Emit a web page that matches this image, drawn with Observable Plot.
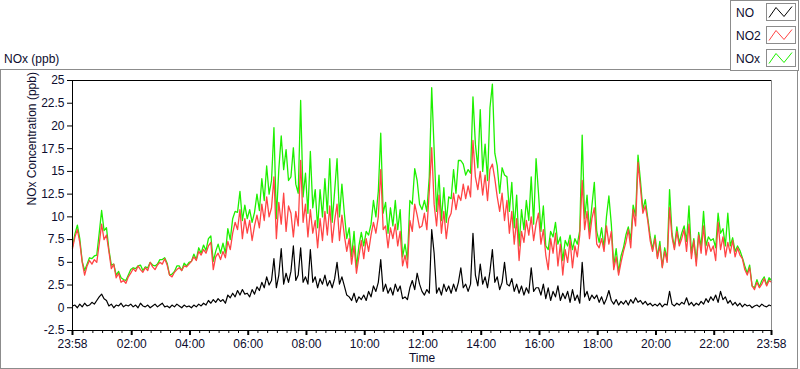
<!DOCTYPE html>
<html>
<head>
<meta charset="utf-8">
<script src="https://cdn.jsdelivr.net/npm/d3@7"></script>
<script src="https://cdn.jsdelivr.net/npm/@observablehq/plot@0.6"></script>
<style>
  html, body { margin: 0; padding: 0; background: #fff; }
  #chart { width: 800px; height: 369px; }
</style>
</head>
<body>
<div id="chart"></div>
<script>
// ---- Data (5-minute samples from 23:58 to 23:58 next day) ----
const seriesNames = ["NO", "NO2", "NOx"];
const seriesColors = ["#000000", "#ff4545", "#1ef000"];

const NO2 = [
  6.5, 7.8, 8.6, 7.2, 5.0, 3.6, 4.6, 5.2, 4.8, 5.3, 5.0, 7.0,
  9.2, 7.5, 8.0, 6.2, 4.3, 4.8, 3.3, 3.8, 2.8, 3.0, 2.7, 3.4,
  3.8, 4.3, 4.0, 4.6, 4.2, 3.9, 4.4, 4.1, 5.0, 4.5, 4.2, 4.7,
  5.0, 4.8, 5.4, 4.7, 3.6, 3.4, 3.9, 4.2, 4.4, 4.1, 4.6, 4.5,
  4.8, 5.1, 5.6, 5.2, 6.2, 5.8, 6.4, 6.0, 6.8, 7.2, 4.2, 5.6,
  6.0, 5.3, 6.2, 5.5, 7.3, 6.4, 8.2, 9.4, 8.6, 10.8, 7.6, 9.8,
  8.2, 9.6, 7.4, 9.0, 10.2, 8.8, 11.4, 9.6, 12.2, 10.0, 11.0, 14.4,
  7.6, 11.6, 9.2, 12.6, 8.4, 11.2, 10.4, 7.8, 10.6, 9.0, 16.2, 9.4,
  11.4, 7.8, 10.8, 8.2, 9.6, 6.6, 9.8, 7.4, 10.6, 8.0, 11.2, 7.2,
  9.6, 11.4, 7.4, 10.2, 8.0, 6.2, 7.6, 4.8, 6.8, 3.8, 5.6, 7.4,
  5.4, 7.6, 6.2, 8.0, 9.4, 8.2, 10.0, 15.2, 8.6, 9.0, 6.6, 8.8,
  7.6, 9.2, 6.8, 8.4, 4.6, 5.8, 4.4, 9.6, 8.4, 11.4, 10.2, 8.8,
  9.0, 10.4, 8.6, 12.8, 17.6, 11.4, 9.0, 12.4, 8.2, 10.6, 7.6, 9.8,
  10.4, 12.6, 10.8, 12.4, 11.8, 13.6, 12.0, 13.4, 12.2, 18.4, 14.4, 13.0,
  15.0, 12.4, 14.6, 11.8, 15.2, 15.8, 14.2, 12.2, 10.6, 12.6, 9.6, 11.8,
  8.2, 10.6, 7.0, 9.8, 5.2, 8.4, 7.2, 9.6, 8.0, 10.0, 7.4, 9.2,
  10.4, 7.0, 8.6, 5.8, 4.2, 7.6, 6.0, 8.2, 4.6, 7.0, 3.6, 6.4,
  5.0, 7.4, 4.4, 6.8, 5.6, 8.0, 14.0, 8.6, 10.6, 7.6, 9.8, 11.0,
  7.0, 6.6, 7.6, 6.2, 9.0, 7.0, 8.4, 4.2, 5.6, 3.6, 5.0, 6.2,
  7.2, 8.6, 6.6, 10.8, 9.0, 16.0, 13.2, 10.4, 11.2, 9.6, 7.4, 6.2,
  7.6, 5.4, 6.8, 4.4, 6.2, 5.0, 11.0, 7.8, 6.4, 8.4, 6.8, 7.6,
  8.6, 6.2, 9.2, 5.4, 7.4, 4.6, 8.0, 6.0, 9.0, 5.8, 7.2, 6.2,
  6.8, 5.2, 9.4, 6.4, 7.8, 5.6, 7.2, 6.0, 7.4, 5.6, 6.6, 5.8,
  5.4, 4.2, 3.6, 4.4, 2.4, 2.0, 2.8, 2.2, 2.6, 3.2, 2.4, 3.0,
  2.8
];

const NO = [
  0.2, 0.3, 0.0, 0.4, 0.1, 0.5, 0.2, 0.3, 0.6, 0.4, 0.8, 1.2,
  1.5, 1.0, 0.8, 0.2, 0.4, 0.0, 0.3, 0.2, 0.5, 0.1, 0.3, 0.2,
  0.4, 0.1, 0.3, 0.0, 0.5, 0.2, 0.1, 0.3, 0.0, 0.2, 0.4, 0.1,
  0.3, 0.5, 0.1, 0.2, 0.0, 0.3, 0.1, 0.4, 0.2, 0.0, 0.3, 0.1,
  0.2, 0.0, 0.3, 0.1, 0.4, 0.2, 0.5, 0.3, 0.8, 0.5, 0.9, 0.6,
  1.0, 0.7, 0.9, 0.5, 1.4, 1.1, 1.6, 1.2, 1.9, 1.4, 2.0, 1.5,
  1.6, 1.2, 2.0, 1.5, 2.3, 1.9, 2.8, 2.2, 3.4, 2.5, 3.0, 5.4,
  2.2, 3.6, 6.5, 2.6, 3.8, 2.8, 4.0, 6.8, 3.0, 3.6, 6.6, 2.8,
  3.4, 2.6, 6.4, 2.8, 3.4, 2.2, 3.2, 2.6, 3.6, 2.4, 3.0, 2.2,
  3.2, 5.0, 2.6, 3.4, 2.4, 1.4, 1.2, 0.8, 1.6, 0.6, 1.2, 0.9,
  1.4, 0.8, 1.8, 1.2, 2.4, 1.8, 2.8, 5.3, 1.8, 2.6, 1.6, 2.2,
  1.4, 2.6, 1.8, 2.4, 1.0, 1.2, 0.9, 2.2, 3.0, 2.0, 3.8, 2.6,
  1.8, 1.4, 2.0, 1.6, 8.6, 6.0, 1.6, 2.2, 1.4, 2.6, 1.8, 2.4,
  1.6, 2.6, 1.8, 2.8, 4.4, 2.2, 2.6, 1.8, 2.6, 8.2, 3.6, 2.4,
  4.8, 2.6, 3.4, 2.2, 4.0, 6.4, 2.8, 3.4, 2.0, 2.8, 5.0, 2.6,
  2.4, 3.2, 1.8, 2.6, 1.6, 2.4, 1.4, 2.2, 1.6, 4.4, 1.8, 2.2,
  2.2, 1.4, 2.6, 1.0, 2.2, 0.8, 1.8, 1.2, 2.4, 0.8, 1.6, 1.0,
  1.8, 0.6, 2.0, 0.8, 1.4, 0.5, 5.0, 1.2, 1.8, 0.8, 1.4, 1.0,
  1.4, 0.6, 1.2, 0.4, 1.0, 1.9, 0.8, 0.4, 0.9, 0.3, 0.7, 0.4,
  0.8, 0.3, 0.9, 0.5, 1.1, 0.6, 0.8, 0.4, 0.7, 0.3, 0.5, 0.2,
  0.4, 0.2, 0.5, 0.1, 0.4, 0.3, 1.8, 0.4, 0.2, 0.5, 0.3, 0.6,
  0.4, 1.1, 0.3, 0.6, 0.2, 0.5, 0.3, 0.7, 0.4, 1.0, 0.6, 1.2,
  0.8, 1.4, 0.6, 1.8, 0.9, 1.2, 0.5, 0.8, 0.3, 0.6, 0.2, 0.5,
  0.1, 0.4, 0.2, 0.3, 0.0, 0.2, 0.3, 0.1, 0.4, 0.2, 0.1, 0.3,
  0.2
];

const NOX = [
  6.7, 8.1, 9.1, 7.6, 5.1, 4.1, 4.8, 5.5, 5.4, 5.7, 5.8, 8.2,
  10.7, 8.5, 8.8, 6.4, 4.7, 4.8, 3.6, 4.0, 3.3, 3.1, 3.0, 3.6,
  4.2, 4.4, 4.3, 4.6, 4.7, 4.1, 4.5, 4.4, 5.0, 4.7, 4.6, 4.8,
  5.3, 5.3, 5.5, 4.9, 3.6, 3.7, 4.0, 4.6, 4.6, 4.1, 4.9, 4.6,
  5.0, 5.1, 5.9, 5.3, 6.6, 6.0, 6.9, 6.3, 7.6, 7.9, 5.1, 6.2,
  7.0, 6.0, 7.1, 6.0, 8.7, 7.5, 9.8, 10.6, 10.5, 12.8, 9.6, 11.3,
  9.8, 10.8, 9.4, 10.5, 12.5, 10.7, 14.2, 11.8, 15.6, 12.5, 14.0, 19.8,
  9.8, 15.2, 18.9, 15.2, 17.4, 14.0, 14.4, 17.6, 13.6, 12.6, 22.8, 12.2,
  14.8, 10.4, 17.2, 11.0, 13.0, 8.8, 13.0, 10.0, 14.2, 10.4, 16.4, 9.4,
  12.8, 16.4, 10.0, 13.6, 10.4, 7.6, 8.8, 5.6, 8.4, 4.4, 6.8, 8.3,
  6.8, 8.4, 8.0, 9.2, 11.8, 10.0, 12.8, 19.2, 10.4, 11.6, 8.2, 11.0,
  9.0, 11.8, 8.6, 10.8, 5.6, 7.0, 5.3, 11.8, 11.4, 15.3, 14.0, 11.4,
  10.8, 11.8, 10.6, 14.4, 24.2, 17.4, 10.6, 14.6, 9.6, 13.2, 9.4, 12.2,
  12.0, 15.2, 12.6, 16.2, 16.2, 15.8, 14.6, 15.2, 14.8, 23.2, 18.0, 15.4,
  21.8, 15.0, 18.0, 14.0, 22.0, 24.6, 17.0, 15.6, 12.6, 15.4, 14.6, 14.4,
  10.6, 13.8, 8.8, 12.4, 6.8, 10.8, 8.6, 11.8, 9.6, 14.4, 9.2, 16.4,
  12.6, 8.4, 11.2, 6.8, 6.4, 8.4, 7.8, 9.4, 7.0, 7.8, 5.2, 7.4,
  6.8, 8.0, 6.4, 7.6, 7.0, 8.5, 19.0, 9.8, 12.4, 8.4, 11.2, 13.8,
  8.4, 7.2, 8.8, 6.6, 10.0, 12.3, 9.2, 4.6, 6.5, 3.9, 5.7, 6.6,
  8.0, 8.9, 7.5, 11.3, 10.1, 16.8, 14.0, 10.8, 11.9, 9.9, 7.9, 6.4,
  8.0, 5.6, 7.3, 4.5, 6.6, 5.3, 13.0, 8.2, 6.6, 8.9, 7.1, 8.2,
  9.0, 7.3, 11.2, 6.0, 7.6, 5.1, 8.3, 6.7, 10.6, 6.8, 7.8, 7.4,
  7.6, 6.6, 10.4, 8.2, 8.7, 6.8, 10.4, 6.8, 7.7, 6.2, 6.8, 6.3,
  5.5, 4.6, 3.8, 4.7, 2.4, 2.2, 3.1, 2.3, 3.0, 3.4, 2.5, 3.3,
  3.0
];

const yTicks = [-2.5, 0, 2.5, 5, 7.5, 10, 12.5, 15, 17.5, 20, 22.5, 25];
const xTickLabels = ["23:58", "02:00", "04:00", "06:00", "08:00", "10:00", "12:00", "14:00", "16:00", "18:00", "20:00", "22:00", "23:58"];

// ---- Build table ----
const T0 = new Date(Date.UTC(2020, 0, 1, 23, 58));
const T1 = new Date(Date.UTC(2020, 0, 2, 23, 58));
const step = 5 * 60000;
const data = NO2.map((v, i) => ({
  t: new Date(T0.getTime() + i * step),
  no: NO[i], no2: v, nox: NOX[i]
}));

const majorTicks = xTickLabels.map((s, i) => {
  if (i === 0) return T0;
  if (i === xTickLabels.length - 1) return T1;
  const [h, m] = s.split(":").map(Number);
  return new Date(Date.UTC(2020, 0, 2, h, m));
});
const minorTicks = [];
for (let m = 20; m < 24 * 60; m += 20) {
  if (m % 120 === 0) continue;
  minorTicks.push(new Date(Date.UTC(2020, 0, 2, 0, m)));
}
const fmt = d3.utcFormat("%H:%M");
const textColor = "#0d0d2e";

const svg = Plot.plot({
  width: 800,
  height: 369,
  marginLeft: 72,
  marginRight: 29,
  marginTop: 80,
  marginBottom: 39,
  style: { fontFamily: "Liberation Sans, Arial, sans-serif", fontSize: "12px", color: textColor, background: "#fff", overflow: "visible" },
  x: { type: "utc", domain: [T0, T1] },
  y: { domain: [-2.5, 25] },
  marks: [
    Plot.lineY(data, { x: "t", y: "nox", stroke: seriesColors[2], strokeWidth: 1.3 }),
    Plot.lineY(data, { x: "t", y: "no2", stroke: seriesColors[1], strokeWidth: 1.3 }),
    Plot.lineY(data, { x: "t", y: "no", stroke: seriesColors[0], strokeWidth: 1.2 }),
    Plot.ruleY([25, -2.5], { stroke: "#000" }),
    Plot.ruleX([T0], { stroke: "#000" }),
    Plot.ruleX([T1], { stroke: "#8a8a8a" }),
    Plot.axisY({ ticks: yTicks, tickFormat: d => String(d), tickSize: 5, tickPadding: 3, label: null, stroke: "#000" }),
    Plot.axisX({ ticks: majorTicks, tickFormat: d => fmt(d), tickSize: 5, tickPadding: 4, label: null, strokeWidth: 2, stroke: "#000" }),
    Plot.axisX({ ticks: minorTicks, tickFormat: () => "", tickSize: 3, label: null, stroke: "#000" }),
    Plot.text(["NOx Concentration (ppb)"], { frameAnchor: "left", rotate: -90, dx: -40, fill: textColor, fontSize: 12 }),
    Plot.text(["Time"], { frameAnchor: "bottom", dy: 31, fill: textColor, fontSize: 12 })
  ]
});

// ---- Decorations: outer panel, panel title, legend ----
const s = d3.select(svg);
s.insert("rect", ":first-child")
  .attr("x", 0.5).attr("y", 69.5).attr("width", 797).attr("height", 299)
  .attr("fill", "#fff").attr("stroke", "#8c8c8c");
s.append("text").attr("x", 4).attr("y", 63).attr("fill", textColor)
  .attr("text-anchor", "start").attr("font-size", 12).text("NOx (ppb)");

const lg = s.append("g").attr("text-anchor", "start");
lg.append("rect").attr("x", 730.5).attr("y", 0.5).attr("width", 68).attr("height", 70)
  .attr("fill", "#fff").attr("stroke", "#8c8c8c");
const rowY = [3.5, 26.5, 49.5];
seriesNames.forEach((name, i) => {
  const y = rowY[i];
  lg.append("text").attr("x", 736).attr("y", y + 13).attr("fill", textColor)
    .attr("text-anchor", "start").attr("font-size", 12).text(name);
  lg.append("rect").attr("x", 766.5).attr("y", y).attr("width", 29).attr("height", 17)
    .attr("fill", "#fff").attr("stroke", "#8c8c8c");
  lg.append("path")
    .attr("d", `M${769},${y + 14} L${776},${y + 4} L${784},${y + 13} L${792},${y + 3}`)
    .attr("fill", "none").attr("stroke", seriesColors[i]).attr("stroke-width", 1);
});

document.getElementById("chart").appendChild(svg);
</script>
</body>
</html>
